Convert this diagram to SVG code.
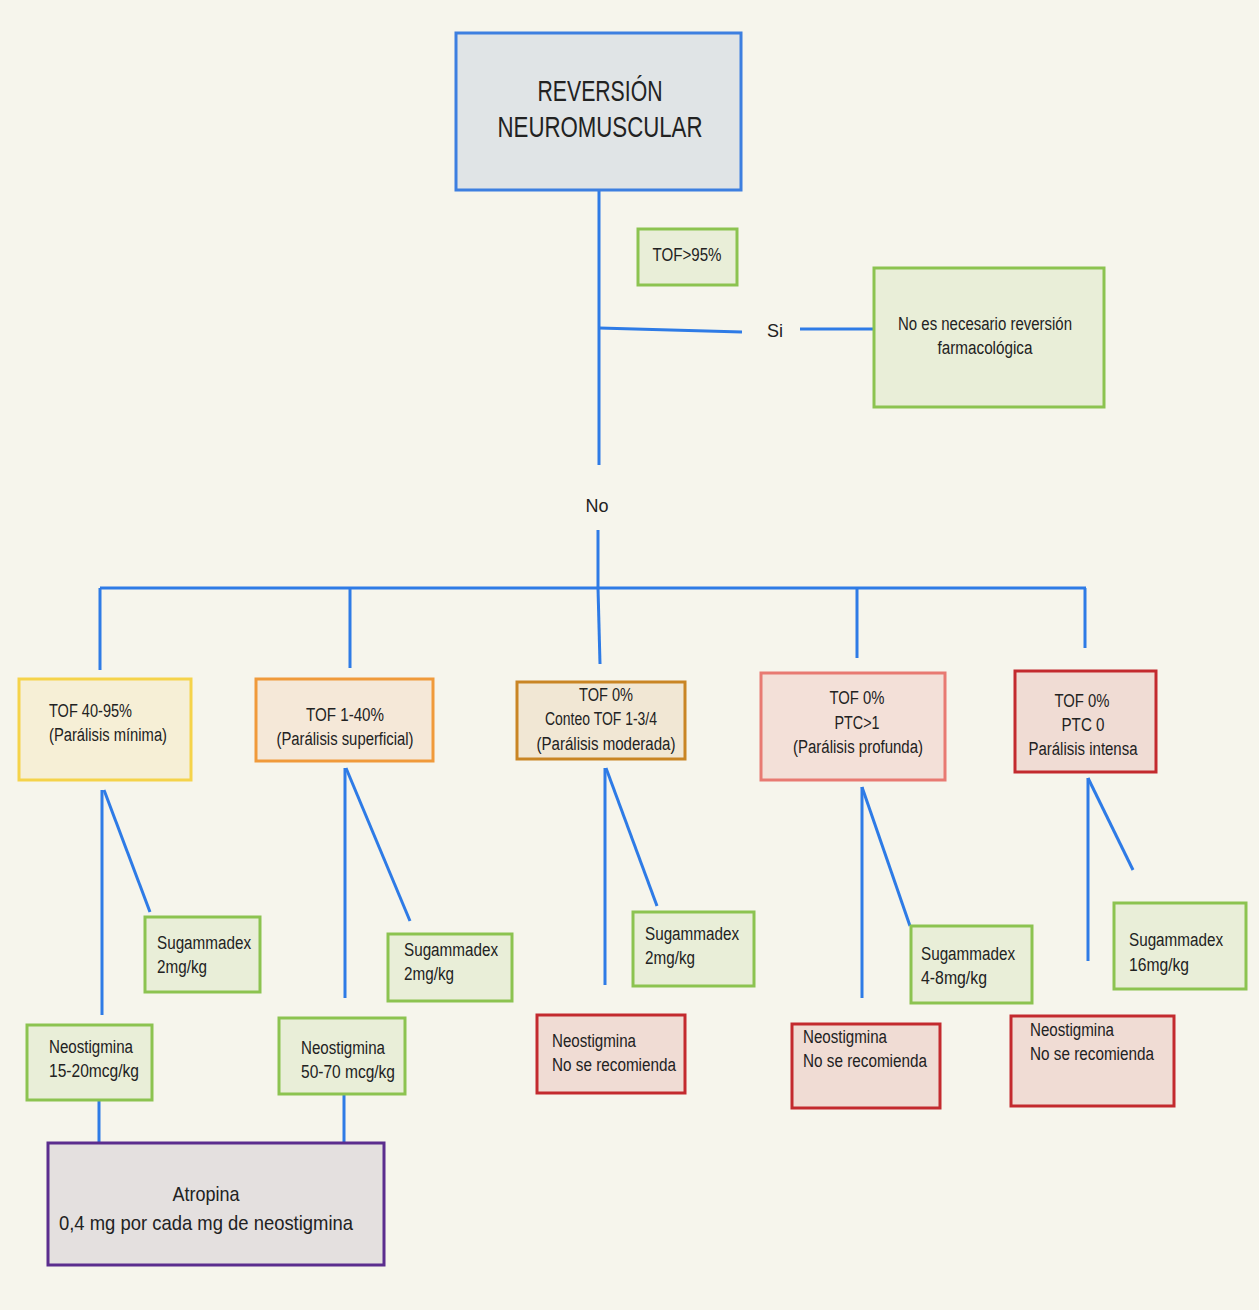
<svg xmlns="http://www.w3.org/2000/svg" width="1259" height="1310" viewBox="0 0 1259 1310">
<style>
text{font-family:"Liberation Sans",Arial,sans-serif;font-size:18px;fill:#222;}
.t{font-size:30px;}
.a{font-size:21px;}
.c{text-anchor:middle;}
.blue{fill:#e0e4e6;stroke:#3d7fe0;stroke-width:3;}
.green{fill:#e9eed8;stroke:#8cc350;stroke-width:3;}
.yellow{fill:#f6efd6;stroke:#f5d34a;stroke-width:3;}
.orange{fill:#f5e8d8;stroke:#f09a3a;stroke-width:3;}
.dorange{fill:#f1e7d4;stroke:#c98524;stroke-width:3;}
.salmon{fill:#f3e0d8;stroke:#e87a72;stroke-width:3;}
.red{fill:#f0dcd4;stroke:#c32a2e;stroke-width:3;}
.purple{fill:#e4e0df;stroke:#5b2d8e;stroke-width:3;}
.ln{stroke:#2e7be6;stroke-width:3;fill:none;}
</style>
<rect width="1259" height="1310" fill="#f6f5ec"/>
<g id="connectors">
<line class="ln" x1="599" y1="190" x2="599" y2="465"/>
<line class="ln" x1="599" y1="328" x2="742" y2="332"/>
<line class="ln" x1="800" y1="329" x2="877" y2="329"/>
<line class="ln" x1="598" y1="530" x2="598" y2="588"/>
<line class="ln" x1="100" y1="588" x2="1086" y2="588"/>
<line class="ln" x1="100" y1="588" x2="100" y2="670"/>
<line class="ln" x1="350" y1="588" x2="350" y2="668"/>
<line class="ln" x1="598" y1="588" x2="600" y2="664"/>
<line class="ln" x1="857" y1="588" x2="857" y2="658"/>
<line class="ln" x1="1085" y1="588" x2="1085" y2="648"/>
<line class="ln" x1="102" y1="790" x2="102" y2="1015"/>
<line class="ln" x1="104" y1="790" x2="150" y2="912"/>
<line class="ln" x1="345" y1="768" x2="345" y2="998"/>
<line class="ln" x1="346" y1="768" x2="410" y2="921"/>
<line class="ln" x1="605" y1="768" x2="605" y2="985"/>
<line class="ln" x1="606" y1="768" x2="657" y2="906"/>
<line class="ln" x1="862" y1="787" x2="862" y2="998"/>
<line class="ln" x1="862" y1="787" x2="910" y2="926"/>
<line class="ln" x1="1088" y1="778" x2="1088" y2="961"/>
<line class="ln" x1="1088" y1="778" x2="1133" y2="870"/>
<line class="ln" x1="99" y1="1100" x2="99" y2="1145"/>
<line class="ln" x1="344" y1="1094" x2="344" y2="1143"/>
<text x="775" y="337" class="c">Si</text>
<text x="597" y="512" class="c">No</text>
</g>
<g id="root">
<rect class="blue" x="456" y="33" width="285" height="157"/>
<text class="t c" x="600" y="101" textLength="125" lengthAdjust="spacingAndGlyphs">REVERSIÓN</text>
<text class="t c" x="600" y="137" textLength="205" lengthAdjust="spacingAndGlyphs">NEUROMUSCULAR</text>
</g>
<g id="tof95">
<rect class="green" x="638" y="229" width="99" height="56"/>
<text class="c" x="687" y="261" textLength="69" lengthAdjust="spacingAndGlyphs">TOF&gt;95%</text>
</g>
<g id="noReversion">
<rect class="green" x="874" y="268" width="230" height="139"/>
<text class="c" x="985" y="330" textLength="174" lengthAdjust="spacingAndGlyphs">No es necesario reversión</text>
<text class="c" x="985" y="354" textLength="95" lengthAdjust="spacingAndGlyphs">farmacológica</text>
</g>
<g id="tof40-95">
<rect class="yellow" x="19" y="679" width="172" height="101"/>
<text x="49" y="717" textLength="83" lengthAdjust="spacingAndGlyphs">TOF 40-95%</text>
<text x="49" y="741" textLength="118" lengthAdjust="spacingAndGlyphs">(Parálisis mínima)</text>
</g>
<g id="tof1-40">
<rect class="orange" x="256" y="679" width="177" height="82"/>
<text class="c" x="345" y="721" textLength="78" lengthAdjust="spacingAndGlyphs">TOF 1-40%</text>
<text class="c" x="345" y="745" textLength="137" lengthAdjust="spacingAndGlyphs">(Parálisis superficial)</text>
</g>
<g id="tof0-moderada">
<rect class="dorange" x="517" y="682" width="168" height="77"/>
<text class="c" x="606" y="701" textLength="54" lengthAdjust="spacingAndGlyphs">TOF 0%</text>
<text class="c" x="601" y="725" textLength="112" lengthAdjust="spacingAndGlyphs">Conteo TOF 1-3/4</text>
<text class="c" x="606" y="750" textLength="139" lengthAdjust="spacingAndGlyphs">(Parálisis moderada)</text>
</g>
<g id="tof0-profunda">
<rect class="salmon" x="761" y="673" width="184" height="107"/>
<text class="c" x="857" y="704" textLength="55" lengthAdjust="spacingAndGlyphs">TOF 0%</text>
<text class="c" x="857" y="729" textLength="45" lengthAdjust="spacingAndGlyphs">PTC&gt;1</text>
<text class="c" x="858" y="753" textLength="130" lengthAdjust="spacingAndGlyphs">(Parálisis profunda)</text>
</g>
<g id="tof0-intensa">
<rect class="red" x="1015" y="671" width="141" height="101"/>
<text class="c" x="1082" y="707" textLength="55" lengthAdjust="spacingAndGlyphs">TOF 0%</text>
<text class="c" x="1083" y="731" textLength="43" lengthAdjust="spacingAndGlyphs">PTC 0</text>
<text class="c" x="1083" y="755" textLength="109" lengthAdjust="spacingAndGlyphs">Parálisis intensa</text>
</g>
<g id="sug1">
<rect class="green" x="145" y="917" width="115" height="75"/>
<text x="157" y="949" textLength="94" lengthAdjust="spacingAndGlyphs">Sugammadex</text>
<text x="157" y="973" textLength="50" lengthAdjust="spacingAndGlyphs">2mg/kg</text>
</g>
<g id="sug2">
<rect class="green" x="388" y="934" width="124" height="67"/>
<text x="404" y="956" textLength="94" lengthAdjust="spacingAndGlyphs">Sugammadex</text>
<text x="404" y="980" textLength="50" lengthAdjust="spacingAndGlyphs">2mg/kg</text>
</g>
<g id="sug3">
<rect class="green" x="633" y="912" width="121" height="74"/>
<text x="645" y="940" textLength="94" lengthAdjust="spacingAndGlyphs">Sugammadex</text>
<text x="645" y="964" textLength="50" lengthAdjust="spacingAndGlyphs">2mg/kg</text>
</g>
<g id="sug4">
<rect class="green" x="911" y="926" width="121" height="77"/>
<text x="921" y="960" textLength="94" lengthAdjust="spacingAndGlyphs">Sugammadex</text>
<text x="921" y="984" textLength="66" lengthAdjust="spacingAndGlyphs">4-8mg/kg</text>
</g>
<g id="sug5">
<rect class="green" x="1114" y="903" width="132" height="86"/>
<text x="1129" y="946" textLength="94" lengthAdjust="spacingAndGlyphs">Sugammadex</text>
<text x="1129" y="971" textLength="60" lengthAdjust="spacingAndGlyphs">16mg/kg</text>
</g>
<g id="neo1">
<rect class="green" x="27" y="1025" width="125" height="75"/>
<text x="49" y="1053" textLength="84" lengthAdjust="spacingAndGlyphs">Neostigmina</text>
<text x="49" y="1077" textLength="90" lengthAdjust="spacingAndGlyphs">15-20mcg/kg</text>
</g>
<g id="neo2">
<rect class="green" x="279" y="1018" width="126" height="76"/>
<text x="301" y="1054" textLength="84" lengthAdjust="spacingAndGlyphs">Neostigmina</text>
<text x="301" y="1078" textLength="94" lengthAdjust="spacingAndGlyphs">50-70 mcg/kg</text>
</g>
<g id="neo3">
<rect class="red" x="537" y="1015" width="148" height="78"/>
<text x="552" y="1047" textLength="84" lengthAdjust="spacingAndGlyphs">Neostigmina</text>
<text x="552" y="1071" textLength="124" lengthAdjust="spacingAndGlyphs">No se recomienda</text>
</g>
<g id="neo4">
<rect class="red" x="792" y="1024" width="148" height="84"/>
<text x="803" y="1043" textLength="84" lengthAdjust="spacingAndGlyphs">Neostigmina</text>
<text x="803" y="1067" textLength="124" lengthAdjust="spacingAndGlyphs">No se recomienda</text>
</g>
<g id="neo5">
<rect class="red" x="1011" y="1016" width="163" height="90"/>
<text x="1030" y="1036" textLength="84" lengthAdjust="spacingAndGlyphs">Neostigmina</text>
<text x="1030" y="1060" textLength="124" lengthAdjust="spacingAndGlyphs">No se recomienda</text>
</g>
<g id="atropina">
<rect class="purple" x="48" y="1143" width="336" height="122"/>
<text class="a c" x="206" y="1201" textLength="67" lengthAdjust="spacingAndGlyphs">Atropina</text>
<text class="a" x="59" y="1230" textLength="294" lengthAdjust="spacingAndGlyphs">0,4 mg por cada mg de neostigmina</text>
</g>
</svg>
